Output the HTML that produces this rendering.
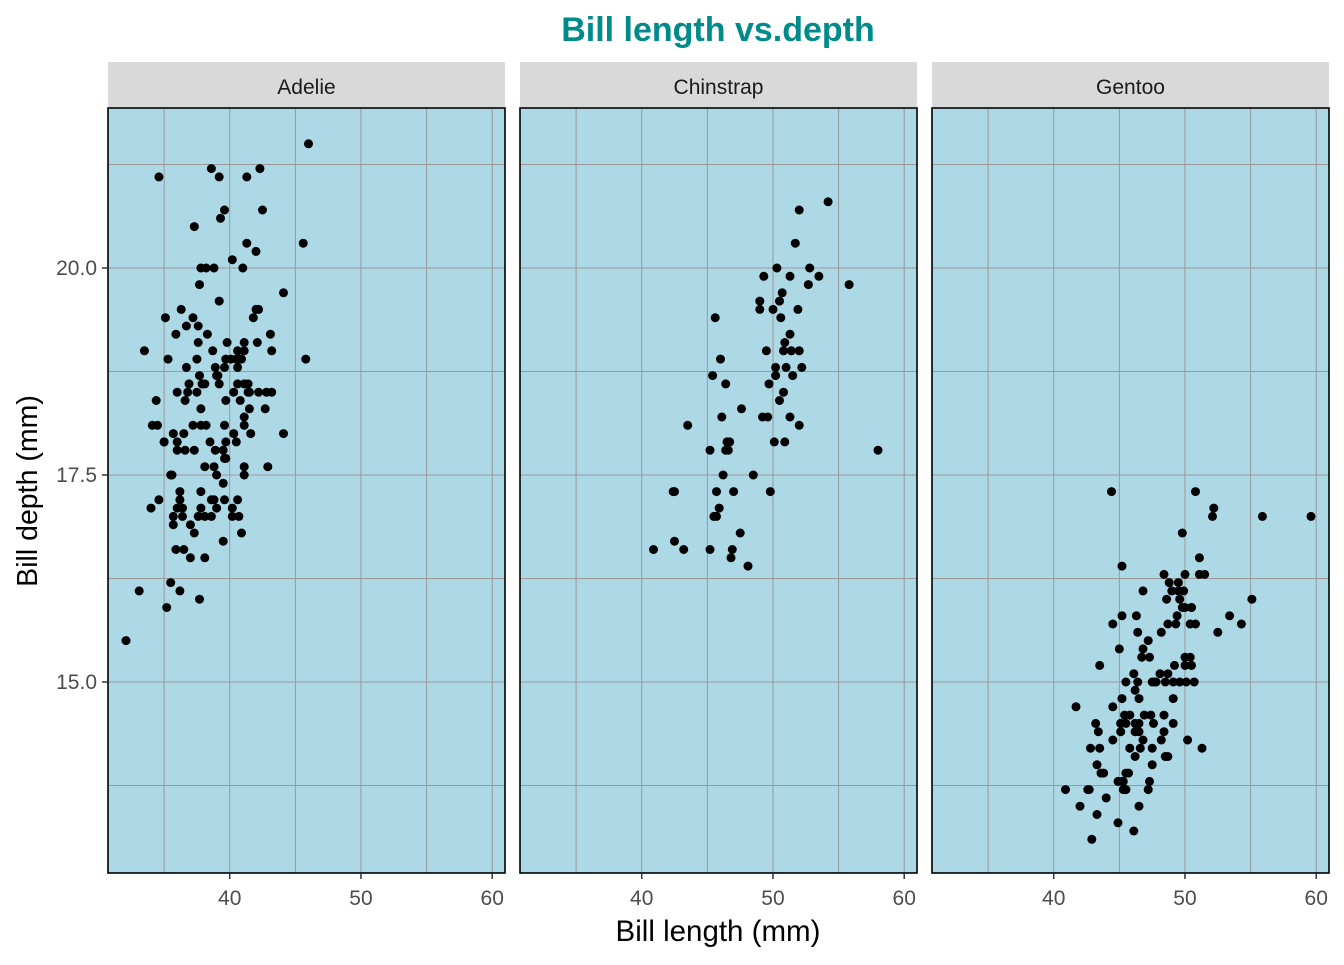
<!DOCTYPE html>
<html><head><meta charset="utf-8"><style>
body{margin:0;background:#fff;}
svg text{font-family:"Liberation Sans",sans-serif;}
</style></head><body>
<svg id="s" width="1344" height="960" xmlns="http://www.w3.org/2000/svg">
<rect width="1344" height="960" fill="#fff"/>
<text x="718" y="41" text-anchor="middle" font-size="34" font-weight="bold" fill="#008B8B">Bill length vs.depth</text>
<text x="718" y="941" text-anchor="middle" font-size="29.5" fill="#000">Bill length (mm)</text>
<text transform="translate(37,491) rotate(-90)" text-anchor="middle" font-size="28.5" fill="#000">Bill depth (mm)</text>
</svg>
<script>
var A=[39.1,18.7,39.5,17.4,40.3,18,36.7,19.3,39.3,20.6,38.9,17.8,39.2,19.6,34.1,18.1,42,20.2,37.8,17.1,37.8,17.3,41.1,17.6,38.6,21.2,34.6,21.1,36.6,17.8,38.7,19,42.5,20.7,34.4,18.4,46,21.5,37.8,18.3,37.7,18.7,35.9,19.2,38.2,18.1,38.8,17.2,35.3,18.9,40.6,18.6,40.5,17.9,37.9,18.6,40.5,18.9,39.5,16.7,37.2,18.1,39.5,17.8,40.9,18.9,36.4,17,39.2,21.1,38.8,20,42.2,18.5,37.6,19.3,39.8,19.1,36.5,18,40.8,18.4,36,18.5,44.1,19.7,37,16.9,39.6,18.8,41.1,19,37.5,18.9,36,17.9,42.3,21.2,39.6,17.7,40.1,18.9,35,17.9,42,19.5,34.5,18.1,41.4,18.6,39,17.5,40.6,18.8,36.5,16.6,37.6,19.1,35.7,16.9,41.3,21.1,37.6,17,41.1,18.2,36.4,17.1,41.6,18,35.5,16.2,41.1,19.1,35.9,16.6,41.8,19.4,33.5,19,39.7,18.4,39.6,17.2,45.8,18.9,35.5,17.5,42.8,18.5,40.9,16.8,37.2,19.4,36.2,16.1,42.1,19.1,34.6,17.2,42.9,17.6,36.7,18.8,35.1,19.4,37.3,17.8,41.3,20.3,36.3,19.5,36.9,18.6,38.3,19.2,38.9,18.8,35.7,18,41.1,18.1,34,17.1,39.6,18.1,36.2,17.3,40.8,18.9,38.1,18.6,40.3,18.5,33.1,16.1,43.2,18.5,35,17.9,41,20,37.7,16,37.8,20,37.9,18.6,39.7,18.9,38.6,17.2,38.2,20,38.1,17,43.2,19,38.1,16.5,45.6,20.3,39.7,17.7,42.2,19.5,39.6,20.7,42.7,18.3,38.6,17,37.3,20.5,35.7,17,41.1,18.6,36.2,17.2,37.7,19.8,40.2,17,41.4,18.5,35.2,15.9,40.6,19,38.8,17.6,41.5,18.3,39,17.1,44.1,18,38.5,17.9,43.1,19.2,36.8,18.5,37.5,18.5,38.1,17.6,41.1,17.5,35.6,17.5,40.2,20.1,37,16.5,39.7,17.9,40.2,17.1,40.6,17.2,32.1,15.5,40.7,17,37.3,16.8,39,18.7,39.2,18.6,36.6,18.4,36,17.8,37.8,18.1,36,17.1,41.5,18.5];
var C=[46.5,17.9,50,19.5,51.3,19.2,45.4,18.7,52.7,19.8,45.2,17.8,46.1,18.2,51.3,18.2,46,18.9,51.3,19.9,46.6,17.8,51.7,20.3,47,17.3,52,18.1,45.9,17.1,50.5,19.6,50.3,20,58,17.8,46.4,18.6,49.2,18.2,42.4,17.3,48.5,17.5,43.2,16.6,50.6,19.4,46.7,17.9,52,19,50.5,18.4,49.5,19,46.4,17.8,52.8,20,40.9,16.6,54.2,20.8,42.5,16.7,51,18.8,49.7,18.6,47.5,16.8,47.6,18.3,52,20.7,46.9,16.6,53.5,19.9,49,19.5,46.2,17.5,50.9,19.1,45.5,17,50.9,17.9,50.8,18.5,50.1,17.9,49,19.6,51.5,18.7,49.8,17.3,48.1,16.4,51.4,19,45.7,17.3,50.7,19.7,42.5,17.3,52.2,18.8,45.2,16.6,49.3,19.9,50.2,18.8,45.6,19.4,51.9,19.5,46.8,16.5,45.7,17,55.8,19.8,43.5,18.1,49.6,18.2,50.8,19,50.2,18.7];
var G=[46.1,13.2,50,16.3,48.7,14.1,50,15.2,47.6,14.5,46.5,13.5,45.4,14.6,46.7,15.3,43.3,13.4,46.8,15.4,40.9,13.7,49,16.1,45.5,13.7,48.4,14.6,45.8,14.6,49.3,15.7,42,13.5,49.2,15.2,46.2,14.5,48.7,15.1,50.2,14.3,45.1,14.5,46.5,14.5,46.3,15.8,42.9,13.1,46.1,15.1,44.5,14.3,47.8,15,48.2,14.3,50,15.3,47.3,15.3,42.8,14.2,45.1,14.5,59.6,17,49.1,14.8,48.4,16.3,42.6,13.7,44.4,17.3,44,13.6,48.7,15.7,42.7,13.7,49.6,16,45.3,13.7,49.6,15,50.5,15.9,43.6,13.9,45.5,13.9,50.5,15.9,44.9,13.3,45.2,15.8,46.6,14.2,48.5,14.1,45.1,14.4,50.1,15,46.5,14.4,45,15.4,43.8,13.9,45.5,15,43.2,14.5,50.4,15.3,45.3,13.8,46.2,14.9,45.7,13.9,54.3,15.7,45.8,14.2,49.8,16.8,46.2,14.4,49.5,16.2,43.5,14.2,50.7,15,47.7,15,46.4,15.6,48.2,15.6,46.5,14.8,46.4,15,48.6,16,47.5,14.2,51.1,16.3,45.2,13.8,45.2,16.4,49.1,14.5,52.5,15.6,47.4,14.6,50,15.9,44.9,13.8,50.8,17.3,43.4,14.4,51.3,14.2,47.5,14,52.1,17,47.5,15,52.2,17.1,45.5,14.5,49.5,16.1,44.5,14.7,50.8,15.7,49.4,15.8,46.9,14.6,48.4,14.4,51.1,16.5,48.5,15,55.9,17,47.2,15.5,49.1,15,47.3,13.8,46.8,16.1,41.7,14.7,53.4,15.8,43.3,14,48.1,15.1,50.5,15.2,49.8,15.9,43.5,15.2,51.5,16.3,46.2,14.1,55.1,16,44.5,15.7,48.8,16.2,47.2,13.7,46.8,14.3,50.4,15.7,45.2,14.8,49.9,16.1];
var s=document.getElementById('s'),h='';
var T=108,B=873,W=397;
function yy(v){return 268-(v-20)*82.8;}
var lefts=[108,520,932],names=['Adelie','Chinstrap','Gentoo'],data=[A,C,G];
for(var p=0;p<3;p++){
 var L=lefts[p];
 function xx(v){return L+(v-30.725)*W/30.25;}
 h+='<rect x="'+L+'" y="62" width="'+W+'" height="45" fill="#D9D9D9"/>';
 h+='<text x="'+(L+W/2)+'" y="94" text-anchor="middle" font-size="21" fill="#1a1a1a">'+names[p]+'</text>';
 h+='<rect x="'+L+'" y="'+T+'" width="'+W+'" height="'+(B-T)+'" fill="#ADD8E6"/>';
 [35,40,45,50,55,60].forEach(function(v){var x=xx(v);h+='<line x1="'+x+'" x2="'+x+'" y1="'+T+'" y2="'+B+'" stroke="#999" stroke-width="1"/>';});
 [13.75,15,16.25,17.5,18.75,20,21.25].forEach(function(v){var y=yy(v);h+='<line x1="'+L+'" x2="'+(L+W)+'" y1="'+y+'" y2="'+y+'" stroke="#999" stroke-width="1"/>';});
 var d=data[p];
 for(var i=0;i<d.length;i+=2)h+='<circle cx="'+xx(d[i]).toFixed(1)+'" cy="'+yy(d[i+1]).toFixed(1)+'" r="4.5" fill="#000"/>';
 h+='<rect x="'+L+'" y="'+T+'" width="'+W+'" height="'+(B-T)+'" fill="none" stroke="#000" stroke-width="1.6"/>';
 [40,50,60].forEach(function(v){var x=xx(v);h+='<line x1="'+x+'" x2="'+x+'" y1="'+B+'" y2="'+(B+6)+'" stroke="#333" stroke-width="1.5"/><text x="'+x+'" y="905" text-anchor="middle" font-size="21" fill="#4d4d4d">'+v+'</text>';});
}
[[15,'15.0'],[17.5,'17.5'],[20,'20.0']].forEach(function(t){var y=yy(t[0]);h+='<line x1="102" x2="108" y1="'+y+'" y2="'+y+'" stroke="#333" stroke-width="1.5"/><text x="97" y="'+(y+7)+'" text-anchor="end" font-size="21" fill="#4d4d4d">'+t[1]+'</text>';});
s.insertAdjacentHTML('beforeend',h);
</script>
</body></html>
